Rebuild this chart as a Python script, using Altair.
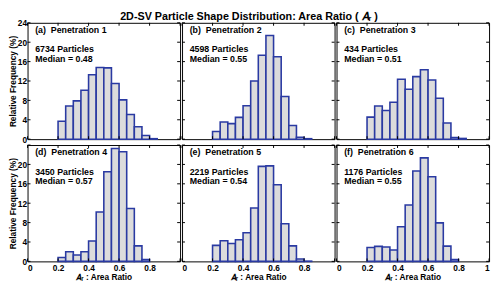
import altair as alt
import pandas as pd

BIN_EDGES = [0.20, 0.25, 0.30, 0.35, 0.40, 0.45, 0.50, 0.55, 0.60, 0.65, 0.70, 0.75, 0.80, 0.85]
FREQ_A = [3.7, 6.85, 7.9, 10.1, 13.3, 14.8, 14.7, 11.5, 8.1, 5.1, 2.55, 0.75, 0.1]
FREQ_B = [1.6, 3.55, 3.2, 4.5, 6.9, 12.0, 17.3, 21.4, 17.0, 8.8, 2.8, 0.4, 0.1]
FREQ_C = [4.55, 6.85, 5.9, 7.6, 12.35, 10.3, 12.9, 14.3, 12.2, 8.45, 3.35, 0.35, 0.15]
FREQ_D = [0.8, 2.0, 1.3, 2.0, 4.2, 10.2, 18.5, 23.3, 22.6, 10.9, 3.2, 0.4]
FREQ_E = [3.3, 4.25, 3.7, 4.45, 5.9, 11.0, 19.6, 19.7, 15.8, 7.75, 3.2, 0.5, 0.05]
FREQ_F = [2.85, 3.1, 2.95, 2.35, 7.15, 11.65, 18.65, 21.35, 17.45, 7.95, 3.15, 0.4]

PANEL_LABELS = ["(a)\u00a0 Penetration 1", "(b)\u00a0 Penetration 2", "(c)\u00a0 Penetration 3",
                "(d)\u00a0 Penetration 4", "(e)\u00a0 Penetration 5", "(f)\u00a0 Penetration 6"]
COUNTS = [6734, 4598, 434, 3450, 2219, 1176]
MEDIANS = [0.48, 0.55, 0.51, 0.57, 0.54, 0.55]

X_TICKS = [0, 0.2, 0.4, 0.6, 0.8, 1.0]
Y_TICKS = [0, 4, 8, 12, 16, 20, 24]
X_LABELS_MID = [0, 0.2, 0.4, 0.6, 0.8]
X_LABELS_LAST = [0, 0.2, 0.4, 0.6, 0.8, 1.0]
Y_LABELS_TOP = [0, 4, 8, 12, 16, 20, 24]
Y_LABELS_BOTTOM = [0, 4, 8, 12, 16, 20]

TEXT_X = 0.05
TEXT_Y = [22.5, 18.5, 16.6]

TITLE = "2D-SV Particle Shape Distribution: Area Ratio ( \U0001D434\u1D63 )"
X_TITLE = "\U0001D434\u1D63 : Area Ratio"
Y_TITLE = "Relative Frequency (%)"

W, H = 156, 119
FONT = "Liberation Sans"
FILL = "#DCDCDC"
EDGE = "#2A3AA2"
TICK = 3

xs = alt.Scale(domain=[0, 1], nice=False, zero=False)
ys = alt.Scale(domain=[0, 24], nice=False, zero=False)


def panel(idx, freqs, y_labels, x_labels):
    n = len(freqs)
    bars_df = pd.DataFrame({"lo": BIN_EDGES[:n], "hi": BIN_EDGES[1:n + 1], "f": freqs})
    xaxis = None
    if x_labels is not None:
        xaxis = alt.Axis(values=x_labels, format="~g", ticks=False, domain=False, grid=False,
                         title=X_TITLE, labelPadding=2, titlePadding=1)
    yaxis = None
    if y_labels is not None:
        yaxis = alt.Axis(values=y_labels, format="~g", ticks=False, domain=False, grid=False,
                         title=Y_TITLE, labelPadding=1, titlePadding=0)

    bars = alt.Chart(bars_df).mark_rect(fill=FILL, stroke=EDGE, strokeWidth=1.6).encode(
        x=alt.X("lo:Q", scale=xs, axis=xaxis),
        x2="hi:Q",
        y=alt.Y("f:Q", scale=ys, axis=yaxis),
        y2=alt.datum(0),
    )
    xt = pd.DataFrame({"t": X_TICKS})
    yt = pd.DataFrame({"t": Y_TICKS})
    rule = dict(color="black", strokeWidth=1)
    top = alt.Chart(xt).mark_rule(**rule).encode(
        x=alt.X("t:Q", scale=xs, axis=xaxis), y=alt.value(0), y2=alt.value(TICK))
    bot = alt.Chart(xt).mark_rule(**rule).encode(
        x=alt.X("t:Q", scale=xs, axis=xaxis), y=alt.value(H - TICK), y2=alt.value(H))
    left = alt.Chart(yt).mark_rule(**rule).encode(
        y=alt.Y("t:Q", scale=ys, axis=yaxis), x=alt.value(0), x2=alt.value(TICK))
    right = alt.Chart(yt).mark_rule(**rule).encode(
        y=alt.Y("t:Q", scale=ys, axis=yaxis), x=alt.value(W - TICK), x2=alt.value(W))

    txt_df = pd.DataFrame({
        "x": [TEXT_X] * 3,
        "y": TEXT_Y,
        "s": [PANEL_LABELS[idx], f"{COUNTS[idx]} Particles", f"Median = {MEDIANS[idx]:.2f}"],
    })
    txt = alt.Chart(txt_df).mark_text(align="left", baseline="middle", font=FONT,
                                      fontSize=9, fontWeight="bold", color="black").encode(
        x=alt.X("x:Q", scale=xs, axis=xaxis),
        y=alt.Y("y:Q", scale=ys, axis=yaxis),
        text="s:N",
    )
    return alt.layer(bars, top, bot, left, right, txt).properties(width=W, height=H)


row1 = alt.hconcat(
    panel(0, FREQ_A, Y_LABELS_TOP, None),
    panel(1, FREQ_B, None, None),
    panel(2, FREQ_C, None, None),
    spacing=0,
)
row2 = alt.hconcat(
    panel(3, FREQ_D, Y_LABELS_BOTTOM, X_LABELS_MID),
    panel(4, FREQ_E, None, X_LABELS_MID),
    panel(5, FREQ_F, None, X_LABELS_LAST),
    spacing=0,
)

chart = alt.vconcat(row1, row2, spacing=0).properties(
    title=alt.TitleParams(TITLE, font=FONT, fontSize=11, fontWeight="bold", anchor="middle",
                          offset=-4, color="black"),
    padding={"left": 0, "top": 0, "right": 2, "bottom": 0},
).configure_view(
    stroke="black", strokeWidth=1
).configure_axis(
    labelFont=FONT, labelFontSize=8.5, labelFontWeight="bold", labelColor="black",
    titleFont=FONT, titleFontSize=8.5, titleFontWeight="bold", titleColor="black",
).configure_concat(spacing=0)

chart.save("out.html", embed_options={"renderer": "svg", "actions": False})
